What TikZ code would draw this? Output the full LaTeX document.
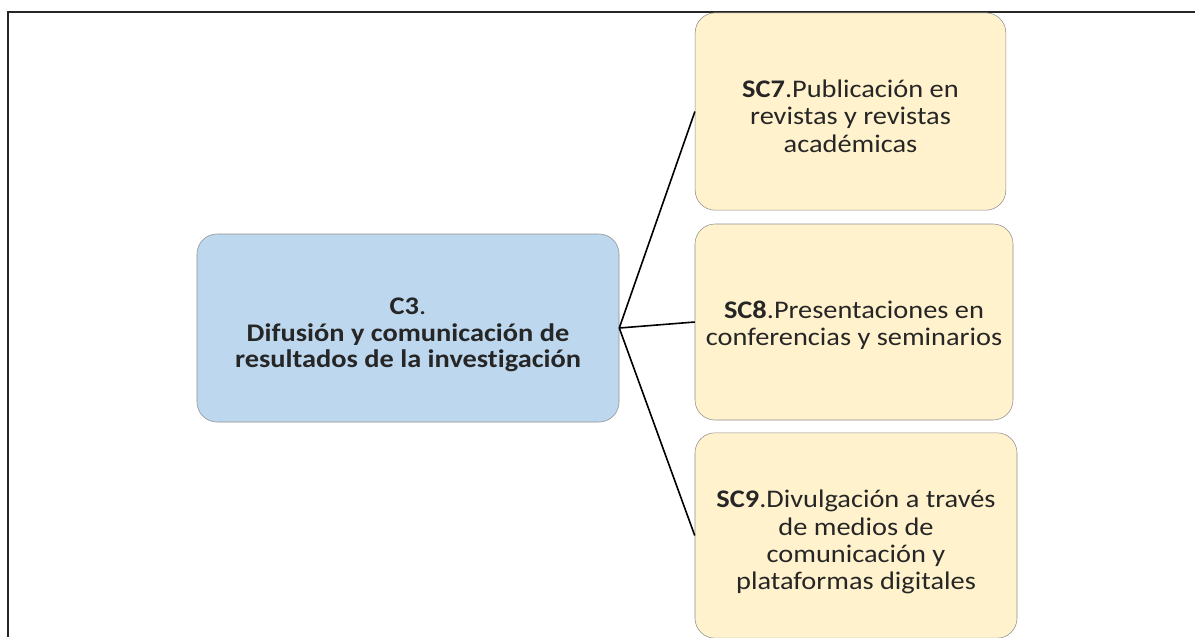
\documentclass[tikz,border=0pt]{standalone}
\usepackage{fontspec}
\setmainfont{Carlito}[FakeStretch=1.12, Ligatures=NoCommon]
\usetikzlibrary{positioning}
\definecolor{boxblue}{HTML}{BDD7EE}
\definecolor{boxyellow}{HTML}{FFF2CC}
\definecolor{edgegray}{HTML}{8E8E8E}
\definecolor{textgray}{HTML}{262626}
\newcommand{\topstrut}[1]{\rule{0pt}{#1}}
\begin{document}
\begin{tikzpicture}[x=0.75pt, y=-0.75pt,
  box/.style={draw=edgegray, rounded corners=15pt, align=center, inner sep=0pt,
    text=textgray, font=\fontsize{19}{20.5}\selectfont},
  catbox/.style={box, fill=boxblue, minimum width=316.5pt, minimum height=141pt,
    font=\fontsize{19}{20}\selectfont},
  subbox/.style={box, fill=boxyellow, minimum height=148pt}]
\useasboundingbox (0,0) rectangle (1195,637);
\fill[white] (0,0) rectangle (1195,637);
% outer frame
\draw[black!85, line width=1.1pt] (8,637) -- (8,12) -- (1195,12);
% category
\node[catbox] (c3) at (408,328) {\topstrut{23pt}\textbf{C3}.\\ \textbf{Difusión y comunicación de}\\ \textbf{resultados de la investigación}};
% subcategories
\node[subbox, minimum width=233pt] (sc7) at (850.5,111.5) {\topstrut{20pt}\textbf{SC7}.Publicación en\\ revistas y revistas\\ académicas};
\node[subbox, minimum width=238.5pt, minimum height=147pt] (sc8) at (854,322) {\topstrut{18pt}\textbf{SC8}.Presentaciones en\\ conferencias y seminarios};
\node[subbox, minimum width=241.5pt, minimum height=154pt] (sc9) at (856,535.5) {\topstrut{23pt}\textbf{SC9}.Divulgación a través\\ de medios de\\ comunicación y\\ plataformas digitales};
% connectors
\draw[black, line width=1.2pt] (c3.east) -- (sc7.west);
\draw[black, line width=1.2pt] (c3.east) -- (sc8.west);
\draw[black, line width=1.2pt] (c3.east) -- (sc9.west);
\end{tikzpicture}
\end{document}
